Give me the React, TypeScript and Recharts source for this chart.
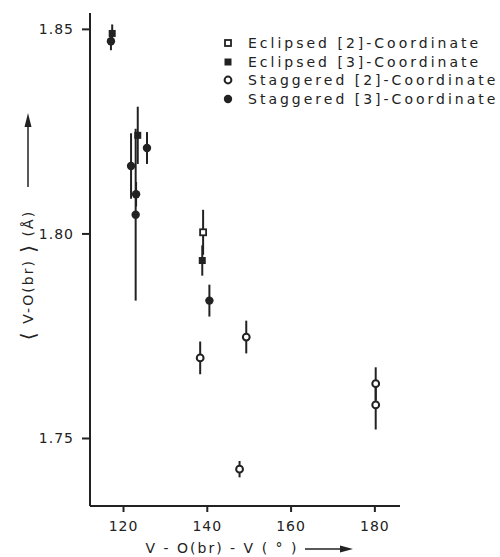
import { ScatterChart, Scatter, XAxis, YAxis, ErrorBar, Label } from 'recharts';

// angle V-O(br)-V in degrees, mean V-O(br) distance in Å, and the error bar half-length
const eclipsed2 = [{ angle: 139.0, dist: 1.8004, err: 0.0055 }];

const eclipsed3 = [
  { angle: 117.3, dist: 1.849, err: 0.0022 },
  { angle: 123.4, dist: 1.8241, err: 0.007 },
  { angle: 138.8, dist: 1.7935, err: 0.0037 },
];

const staggered2 = [
  { angle: 138.3, dist: 1.7697, err: 0.004 },
  { angle: 149.3, dist: 1.7748, err: 0.004 },
  { angle: 147.7, dist: 1.7425, err: 0.002 },
  { angle: 180.2, dist: 1.7634, err: 0.004 },
  { angle: 180.2, dist: 1.7582, err: 0.006 },
];

const staggered3 = [
  { angle: 117.0, dist: 1.8471, err: 0.0022 },
  { angle: 121.8, dist: 1.8166, err: 0.008 },
  { angle: 123.0, dist: 1.8097, err: 0.003 },
  { angle: 122.9, dist: 1.8047, err: 0.021 },
  { angle: 125.6, dist: 1.821, err: 0.0039 },
  { angle: 140.5, dist: 1.7837, err: 0.0039 },
];

const xTicks = [120, 140, 160, 180];
const yTicks = [1.75, 1.8, 1.85];

const legendNames = [
  'Eclipsed [2]-Coordinate',
  'Eclipsed [3]-Coordinate',
  'Staggered [2]-Coordinate',
  'Staggered [3]-Coordinate',
];

const INK = '#222';
const FONT = '"DejaVu Sans", sans-serif';

type Kind = 'openSquare' | 'filledSquare' | 'openCircle' | 'filledCircle';
const kinds: Kind[] = ['openSquare', 'filledSquare', 'openCircle', 'filledCircle'];

function Marker({ kind, cx, cy }: { kind: Kind; cx: number; cy: number }) {
  if (kind === 'openSquare')
    return <rect x={cx - 3} y={cy - 3} width={6} height={6} fill="#fff" stroke={INK} strokeWidth={1.8} />;
  if (kind === 'filledSquare')
    return <rect x={cx - 3.5} y={cy - 3.5} width={7} height={7} fill={INK} />;
  if (kind === 'openCircle')
    return <circle cx={cx} cy={cy} r={3.4} fill="#fff" stroke={INK} strokeWidth={2} />;
  return <circle cx={cx} cy={cy} r={4.2} fill={INK} />;
}

const shapeFor = (kind: Kind) => (p: any) => <Marker kind={kind} cx={p.cx} cy={p.cy} />;

function XTitle({ viewBox }: any) {
  const { x, y } = viewBox;
  const ay = y + 43;
  return (
    <g>
      <text x={x + 132} y={y + 47} textAnchor="middle" fontFamily={FONT} fontSize={14} letterSpacing={2} fill={INK}>
        V - O(br) - V ( ° )
      </text>
      <line x1={x + 215} y1={ay} x2={x + 255} y2={ay} stroke={INK} strokeWidth={1.5} />
      <polygon points={`${x + 263},${ay} ${x + 250},${ay - 3.5} ${x + 250},${ay + 3.5}`} fill={INK} />
    </g>
  );
}

function YTitle({ viewBox }: any) {
  const { x, y } = viewBox;
  const cx = x + 28;
  const cy = y + 262;
  return (
    <g>
      <text
        x={cx}
        y={cy}
        transform={`rotate(-90 ${cx} ${cy})`}
        textAnchor="middle"
        dominantBaseline="central"
        fontFamily={FONT}
        fontSize={14}
        letterSpacing={2}
        fill={INK}
      >
        <tspan fontSize={20}>⟨</tspan> V-O(br) <tspan fontSize={20}>⟩</tspan> (Å)
      </text>
      <line x1={cx} y1={y + 174} x2={cx} y2={y + 110} stroke={INK} strokeWidth={1.5} />
      <polygon points={`${cx},${y + 100} ${cx - 3.5},${y + 114} ${cx + 3.5},${y + 114}`} fill={INK} />
    </g>
  );
}

export default function App() {
  const seriesData = [eclipsed2, eclipsed3, staggered2, staggered3];
  return (
    <div style={{ position: 'absolute', left: 0, top: 0, width: 500, height: 557, background: '#fff' }}>
      <ScatterChart width={500} height={557} margin={{ top: 13, right: 100, bottom: 0, left: 0 }}>
        <XAxis
          type="number"
          dataKey="angle"
          domain={[112, 186]}
          ticks={xTicks}
          height={51}
          tickSize={6}
          tickMargin={9}
          axisLine={{ stroke: INK, strokeWidth: 2 }}
          tickLine={{ stroke: INK, strokeWidth: 2 }}
          tick={{ fill: INK, fontFamily: FONT, fontSize: 14, letterSpacing: 1 }}
          allowDataOverflow
        >
          <Label content={XTitle} />
        </XAxis>
        <YAxis
          type="number"
          dataKey="dist"
          domain={[1.7335, 1.854]}
          ticks={yTicks}
          width={90}
          tickSize={8}
          tickMargin={8}
          tickFormatter={(v: number) => v.toFixed(2)}
          axisLine={{ stroke: INK, strokeWidth: 2 }}
          tickLine={{ stroke: INK, strokeWidth: 2 }}
          tick={{ fill: INK, fontFamily: FONT, fontSize: 14, letterSpacing: 1 }}
          allowDataOverflow
        >
          <Label content={YTitle} />
        </YAxis>
        {seriesData.map((d, i) => (
          <Scatter
            key={legendNames[i]}
            name={legendNames[i]}
            data={d}
            shape={shapeFor(kinds[i])}
            isAnimationActive={false}
          >
            <ErrorBar dataKey="err" direction="y" width={0} stroke={INK} strokeWidth={2} isAnimationActive={false} />
          </Scatter>
        ))}
      </ScatterChart>
      <div style={{ position: 'absolute', left: 222, top: 34, fontFamily: FONT, fontSize: 14, letterSpacing: 3, color: INK }}>
        {legendNames.map((name, i) => (
          <div key={name} style={{ display: 'flex', alignItems: 'center', height: 18.5, whiteSpace: 'nowrap' }}>
            <svg width={12} height={12} style={{ marginRight: 14 }}>
              <Marker kind={kinds[i]} cx={6} cy={6} />
            </svg>
            <span>{name}</span>
          </div>
        ))}
      </div>
    </div>
  );
}
